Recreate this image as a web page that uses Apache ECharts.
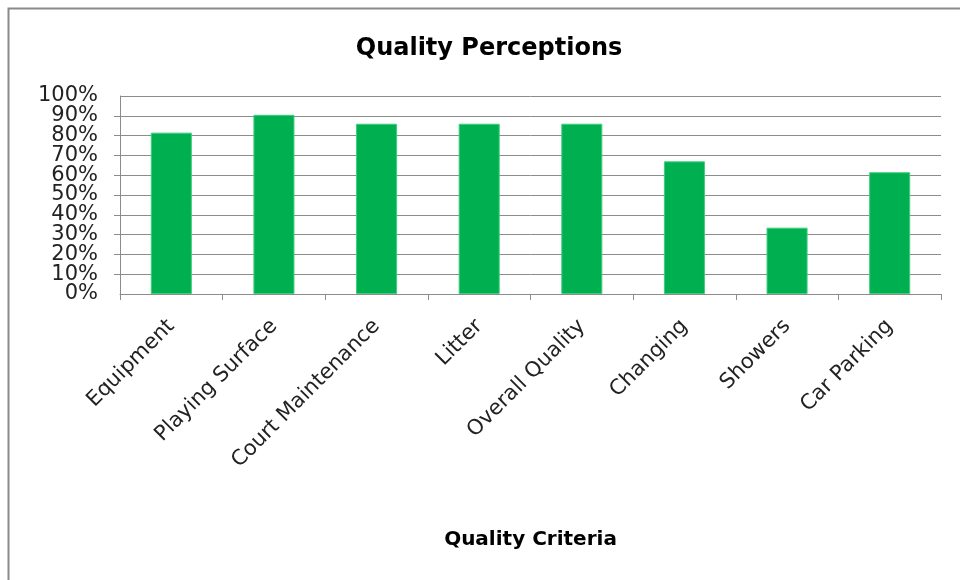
<!DOCTYPE html>
<html>
<head>
<meta charset="utf-8">
<script src="https://cdn.jsdelivr.net/npm/echarts@6/dist/echarts.min.js"></script>
<style>
  html, body { margin: 0; padding: 0; background: #fff; }
  #chart { width: 960px; height: 580px; }
</style>
</head>
<body>
<div id="chart"></div>
<script>
// categories and values (percent of respondents)
const criteria = ['Equipment', 'Playing Surface', 'Court Maintenance', 'Litter', 'Overall Quality', 'Changing', 'Showers', 'Car Parking'];
const perception = [81.5, 90.5, 86, 86, 86, 67, 33.5, 61.5];

const chart = echarts.init(document.getElementById('chart'));
const font = 'DejaVu Sans';
const gridGrey = '#8c8c8c';
const pctLabel = { fontFamily: font, fontSize: 21, color: '#222', height: 12, lineHeight: 12 };

chart.setOption({
  animation: false,
  backgroundColor: '#fff',
  // outer chart frame, cut off at the right and bottom
  graphic: [{
    type: 'rect',
    shape: { x: 8.5, y: 8.5, width: 980, height: 600 },
    style: { fill: 'none', stroke: '#8a8a8a', lineWidth: 2 }
  }],
  title: {
    text: 'Quality Perceptions',
    left: 484,
    top: 32,
    textAlign: 'center',
    textStyle: { fontFamily: font, fontSize: 24, fontWeight: 'bold', color: '#000' }
  },
  grid: { left: 120, right: 19, top: 96, bottom: 286 },
  xAxis: {
    type: 'category',
    data: criteria,
    name: 'Quality Criteria',
    nameLocation: 'middle',
    nameGap: 236,
    nameTextStyle: { fontFamily: font, fontSize: 20, fontWeight: 'bold', color: '#000' },
    axisLine: { lineStyle: { color: gridGrey } },
    axisTick: { show: true, length: 6, lineStyle: { color: gridGrey } },
    axisLabel: {
      rotate: 45,
      interval: 0,
      margin: 29,
      hideOverlap: false,
      fontFamily: font,
      fontSize: 21,
      color: '#222'
    }
  },
  yAxis: [{
    // main axis: 10%..90% labels, lines and ticks
    type: 'value',
    min: 0,
    max: 100,
    interval: 10,
    axisLine: { show: true, lineStyle: { color: gridGrey } },
    axisTick: { show: true, length: 6, lineStyle: { color: gridGrey } },
    axisLabel: {
      formatter: '{v|{value}%}',
      margin: 22,
      hideOverlap: false,
      rich: { v: pctLabel }
    },
    splitLine: { lineStyle: { color: gridGrey, width: 1 } }
  }, {
    // 0% and 100% labels, which the crowded main axis drops
    type: 'value',
    position: 'left',
    min: 0,
    max: 100,
    interval: 10,
    axisLine: { show: false },
    axisTick: { show: false },
    splitLine: { show: false },
    axisLabel: {
      formatter: v => (v === 0 || v === 100) ? '{v|' + v + '%}' : '',
      margin: 22,
      showMinLabel: true,
      showMaxLabel: true,
      rich: { v: pctLabel }
    }
  }],
  series: [{
    type: 'bar',
    data: perception,
    yAxisIndex: 0,
    barWidth: '40%',
    itemStyle: { color: '#00b050', borderColor: '#3fcf7a', borderWidth: 1 }
  }]
});
</script>
</body>
</html>
